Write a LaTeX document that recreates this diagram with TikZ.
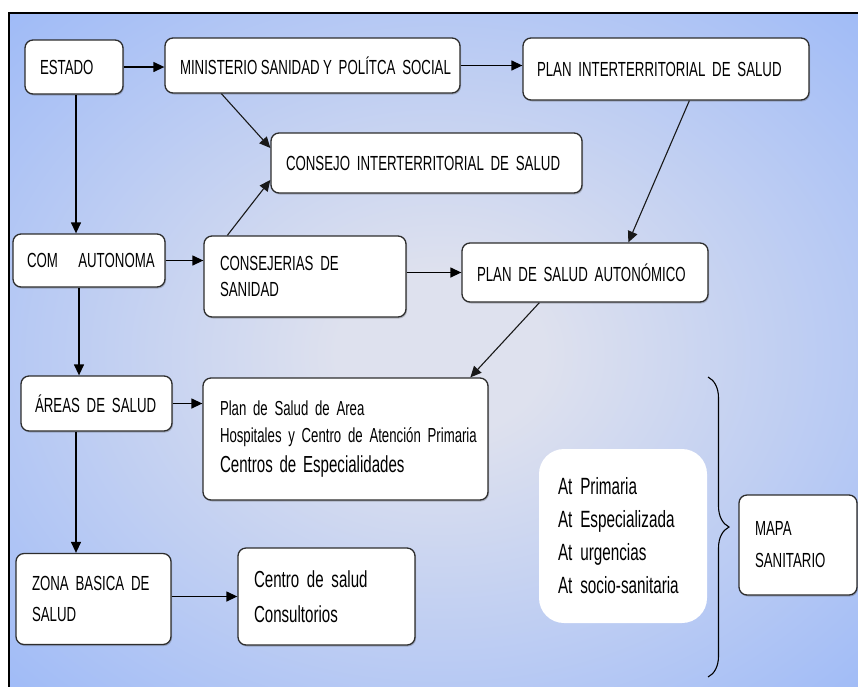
\documentclass[tikz,border=0pt]{standalone}
\usepackage{fontspec}
\setmainfont{Liberation Sans}[FakeStretch=0.65]
\usetikzlibrary{arrows.meta,calc,shadows,decorations.pathreplacing}

\definecolor{bgedge}{RGB}{158,186,247}
\definecolor{bgmid}{RGB}{222,225,238}
\definecolor{boxline}{RGB}{45,45,45}

% soft light glow in the middle of the blue panel
\pgfdeclareradialshading{bgglow}{\pgfpoint{0bp}{0bp}}{%
  color(0bp)=(bgmid); color(6bp)=(bgmid); color(36bp)=(bgedge); color(50bp)=(bgedge)}

% tight word spacing for the condensed lettering
\newcommand{\tightspaces}{\fontdimen2\font=2.6pt\fontdimen3\font=0pt\fontdimen4\font=0pt\relax}

\tikzset{
  box/.style={draw=boxline, line width=1.3pt, fill=white, rounded corners=8pt,
    align=left, inner ysep=0pt, inner xsep=15pt,
    drop shadow={shadow xshift=1pt, shadow yshift=-1.5pt, opacity=0.3, fill=black!70}},
  capsfont/.style={font=\fontsize{20.4}{#1}\selectfont\tightspaces},
  textfont/.style n args={2}{font=\fontsize{#1}{#2}\selectfont\tightspaces},
  arr/.style={line width=1.3pt, -{Triangle[length=11pt,width=10pt]}},
  thinarr/.style={line width=1.1pt, draw=black!90, -{Triangle[length=11pt,width=10pt]}},
  bracestyle/.style={line width=1.1pt, decorate, decoration={brace, amplitude=21pt}}
}

\begin{document}
\begin{tikzpicture}[x=1pt, y=-1pt]
\useasboundingbox (0,0) rectangle (858,686);
\clip (0,0) rectangle (858,686);
\fill[white] (0,0) rectangle (858,686);

% panel
\shade[shading=bgglow] (9,13) rectangle (872,694);
\draw[line width=1.5pt] (9,694) -- (9,13) -- (872,13);

% first row
\node[box, capsfont=22, minimum height=54, text width=68] (estado) at (74,67) {\mbox{ESTADO}};
\node[box, capsfont=22, minimum height=55, text width=265] (minist) at (312.5,65.5)
  {\mbox{MINISTERIO\,SANIDAD\,Y POLÍTCA SOCIAL}};
\node[box, capsfont=22, minimum height=62, text width=258, inner xsep=14pt] (planinter) at (666,69)
  {\mbox{PLAN INTERTERRITORIAL DE SALUD}};
\node[box, capsfont=22, minimum height=60, text width=281] (consejo) at (426.5,163)
  {\mbox{CONSEJO INTERTERRITORIAL DE SALUD}};

% autonomous level
\node[box, capsfont=22, minimum height=53, text width=124, inner xsep=14pt] (comaut) at (89,260.5)
  {\mbox{COM\ \ \ AUTONOMA}};
\node[box, capsfont=26, minimum height=81, text width=170, inner xsep=16pt] (consejerias) at (305,276.5)
  {\mbox{CONSEJERIAS DE}\\\mbox{SANIDAD}};
\node[box, capsfont=22, minimum height=59, text width=216] (planaut) at (585,272.5)
  {\mbox{PLAN DE SALUD AUTONÓMICO}};

% area level
\node[box, capsfont=22, minimum height=55, text width=123, inner xsep=14pt] (areas) at (96.5,403.5)
  {\mbox{ÁREAS DE SALUD}};
\node[box, textfont={20.3}{27}, minimum height=122, text width=251, inner xsep=17pt]
  (planarea) at (345.5,439)
  {\mbox{Plan de Salud de Area}\\\mbox{Hospitales y Centro de Atención Primaria}\\[3pt]%
   {\fontsize{23.2}{27}\selectfont\tightspaces\mbox{Centros de Especialidades}}};

% basic zone level
\node[box, capsfont=31, minimum height=91, text width=123, inner xsep=16pt] (zona) at (93.5,599)
  {\mbox{ZONA BASICA DE}\\\mbox{SALUD}};
\node[box, textfont={23.2}{35}, minimum height=97, text width=145, inner xsep=16pt]
  (centro) at (326.5,596.5)
  {\mbox{Centro de salud}\\\mbox{Consultorios}};

% care types and sanitary map
\node[fill=white, rounded corners=25pt, align=left, inner ysep=0pt, inner xsep=19pt,
  textfont={23.5}{33}, minimum height=174, text width=130] (atbox) at (623,536)
  {\mbox{At Primaria}\\\mbox{At Especializada}\\\mbox{At urgencias}\\\mbox{At socio-sanitaria}};
\node[box, capsfont=32, minimum height=100, text width=86, inner xsep=16pt] (mapa) at (798,545)
  {\mbox{MAPA}\\\mbox{SANITARIO}};

% horizontal flow
\draw[arr] (estado.east) -- (estado.east -| minist.west);
\draw[arr] (minist.east) -- (minist.east -| planinter.west);
\draw[arr] (comaut.east) -- (comaut.east -| consejerias.west);
\draw[arr] (planaut.west -| consejerias.east) -- (planaut.west);
\draw[arr] (areas.east) -- (areas.east -| planarea.west);
\draw[arr] (centro.west -| zona.east) -- (centro.west);

% vertical flow on the left
\coordinate (estadoOut) at ($(estado.south)+(2,0)$);
\coordinate (comautOut) at ($(comaut.south)+(-10,0)$);
\coordinate (areasOut) at ($(areas.south)+(-20.5,0)$);
\draw[arr] (estadoOut) -- (estadoOut |- comaut.north);
\draw[arr] (comautOut) -- (comautOut |- areas.north);
\draw[arr] (areasOut) -- (areasOut |- zona.north);

% diagonal links
\draw[thinarr] ($(minist.south west)+(57,0)$) -- ($(consejo.west)+(0,-15)$);
\draw[thinarr] ($(consejerias.north west)+(24,0)$) -- ($(consejo.west)+(0,17)$);
\draw[thinarr] ($(planinter.south west)+(167,0)$) -- ($(planaut.north west)+(167,0)$);
\draw[thinarr] ($(planaut.south west)+(78,0)$) -- ($(planarea.north west)+(268,0)$);

% brace grouping the care network
\coordinate (braceTop) at (708,377);
\coordinate (braceBot) at (708,677);
\draw[bracestyle] (braceTop) -- (braceBot);
\end{tikzpicture}
\end{document}
